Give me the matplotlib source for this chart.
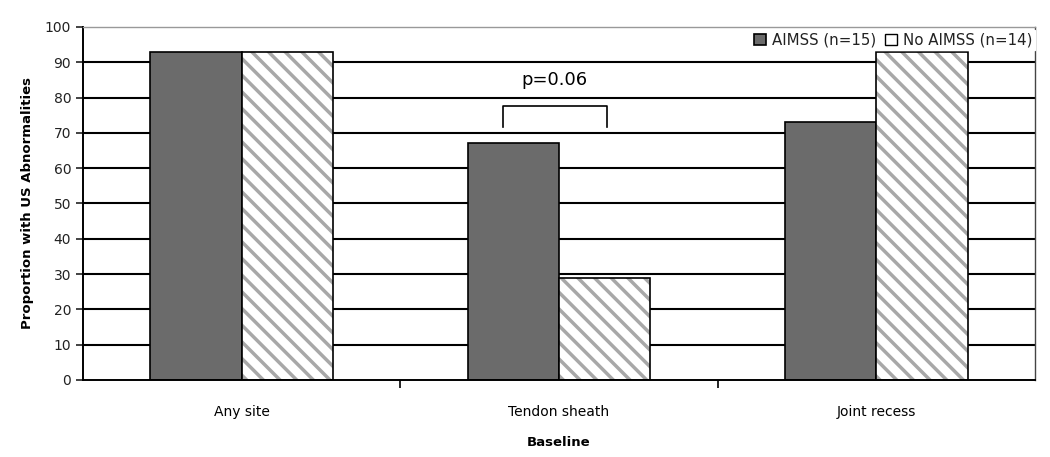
import matplotlib.pyplot as plt
import numpy as np

plt.rcParams['font.family'] = ['DejaVu Sans']
plt.rcParams['hatch.linewidth'] = 2.5

categories = ['Any site', 'Tendon sheath', 'Joint recess']
aimss = [93, 67, 73]
no_aimss = [93, 29, 93]
labels = ['AIMSS (n=15)', 'No AIMSS (n=14)']

fig = plt.figure(figsize=(10.5, 4.57), dpi=100)
ax = fig.add_axes([0.079, 0.1685, 0.9067, 0.7725])

x = np.arange(len(categories))
w = 0.288

# grid lines behind bars
for v in range(10, 100, 10):
    ax.axhline(v, color='black', lw=1.5, zorder=0)

ax.bar(x - w/2, aimss, w, color='#6b6b6b', edgecolor='black', lw=1.2, zorder=2, label=labels[0])
# hatched bars: grey hatch first, black outline on top
ax.bar(x + w/2, no_aimss, w, color='white', edgecolor='#a8a8a8', lw=0, hatch='\\\\', zorder=2)
ax.bar(x + w/2, no_aimss, w, facecolor='none', edgecolor='black', lw=1.2, zorder=3)
ax.bar([0], [0], 0, color='white', edgecolor='black', label=labels[1])

ax.set_xlim(-0.5, 2.5)
ax.set_ylim(0, 100)
ax.set_yticks(range(0, 101, 10))
ax.tick_params(axis='y', labelsize=10, length=5, width=1.2, direction='out', colors='#222222')
ax.set_xticks(x)
ax.set_xticklabels(categories, fontsize=10)
ax.tick_params(axis='x', length=0, pad=18)
ax.set_xticks([0.5, 1.5], minor=True)
ax.tick_params(axis='x', which='minor', length=6, width=1.2, direction='out')

ax.spines['top'].set_color('#999999')
ax.spines['top'].set_linewidth(1)
ax.spines['right'].set_linewidth(1)
ax.spines['right'].set_color('#444444')
ax.spines['left'].set_linewidth(1.4)
ax.spines['bottom'].set_linewidth(1.4)

ax.set_xlabel('Baseline', fontsize=9.5, fontweight='bold', labelpad=12)
ax.set_ylabel('Proportion with US Abnormalities', fontsize=9.5, fontweight='bold', labelpad=8)

# significance bracket
ax.plot([0.824, 0.824, 1.15, 1.15], [71.8, 77.6, 77.6, 71.8], color='black', lw=1.2, zorder=4)
ax.text(0.987, 85, 'p=0.06', ha='center', va='center', fontsize=13)

leg = ax.legend(loc='upper right', bbox_to_anchor=(1.0, 0.99), ncol=2, frameon=True,
                fancybox=False, framealpha=1, edgecolor='white', fontsize=10.8,
                handlelength=0.8, handleheight=0.8, handletextpad=0.4, columnspacing=0.6,
                borderpad=0.15, borderaxespad=0)
leg.set_zorder(10)
for t in leg.get_texts():
    t.set_color('#222222')

fig.savefig('out.png', dpi=100)
